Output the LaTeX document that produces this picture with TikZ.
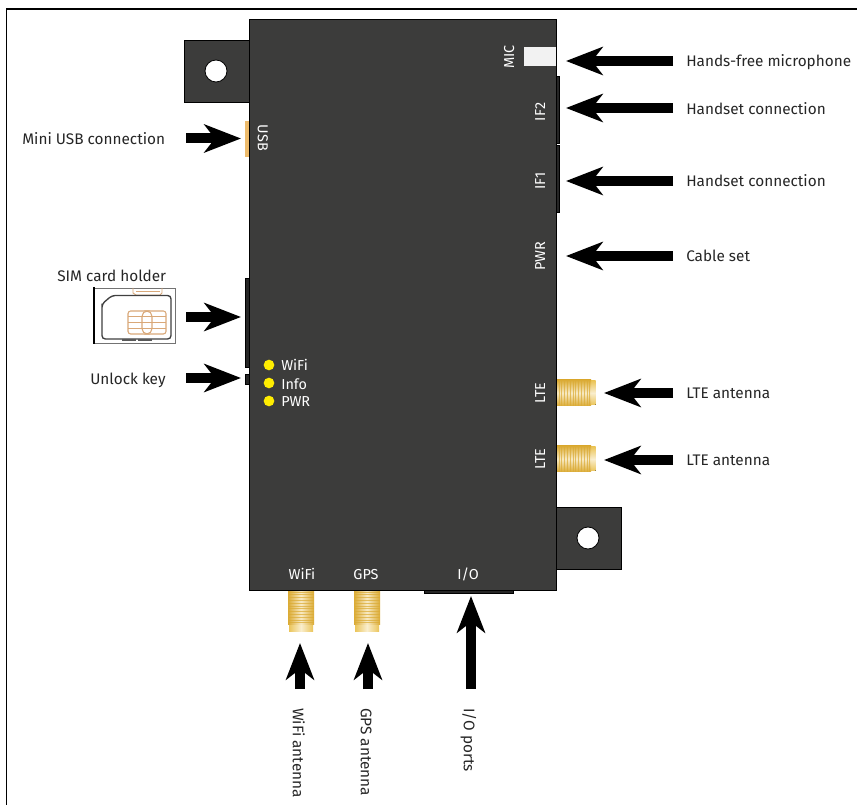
\documentclass[tikz,border=0pt]{standalone}
\usepackage{fontspec}
\setmainfont{Fira Sans}[Scale=1]
\usetikzlibrary{arrows.meta}
\definecolor{body}{HTML}{3C3C3B}
\definecolor{gold}{HTML}{EBC55A}
\definecolor{golddk}{HTML}{DBAB35}
\definecolor{chip}{HTML}{D9A878}
\definecolor{usbc}{HTML}{EDBB6C}
\tikzset{
  x=0.75pt,y=-0.75pt,
  housing/.style={fill=body,draw=black,line width=0.6pt},
  lab/.style={font=\fontsize{11.5pt}{13pt}\selectfont,text=black!85,inner sep=0pt,anchor=west,text height=7.8pt,text depth=0pt},
  vlab/.style={lab,rotate=-90},
  onbox/.style={font=\fontsize{10.8pt}{12pt}\selectfont,text=white,inner sep=0pt,text height=7.6pt,text depth=0pt},
  onboxr/.style={onbox,rotate=90},
  onboxl/.style={onbox,rotate=-90},
  bigarrow/.style={line width=7.5pt,-{Stealth[length=27.5pt,width=21pt,inset=8pt]},black},
  led/.style={circle,fill=yellow!95!orange,inner sep=0pt,minimum size=8pt},
  hole/.style={circle,fill=white,draw=black,line width=0.6pt,inner sep=0pt,minimum size=16.5pt},
  port/.style={fill=black!85,draw=black,line width=0.4pt},
}
\newcommand{\hthread}[2]{% x left, y centre
  \fill[top color=gold,bottom color=gold,middle color=white!70!gold] (#1+33,#2-12) rectangle (#1+38.5,#2+12);
  \shade[top color=golddk,bottom color=golddk,middle color=white!65!gold] (#1,#2-13) rectangle (#1+34,#2+13);
  \foreach \k in {0,...,11}{\draw[golddk,line width=0.7pt,opacity=.7] (#1+2+\k*2.8,#2-13) -- (#1+2+\k*2.8,#2+13);}
}
\newcommand{\vthread}[2]{% x centre, y top
  \fill[left color=gold,right color=gold,middle color=white!70!gold] (#1-12,#2+33) rectangle (#1+12,#2+41);
  \shade[left color=golddk,right color=golddk,middle color=white!65!gold] (#1-13,#2) rectangle (#1+13,#2+34);
  \foreach \k in {0,...,11}{\draw[golddk,line width=0.7pt,opacity=.7] (#1-13,#2+2+\k*2.8) -- (#1+13,#2+2+\k*2.8);}
}
\begin{document}
\begin{tikzpicture}
\useasboundingbox (0,0) rectangle (857,805);
\fill[white] (0,0) rectangle (857,805);
% frame
\draw[black,line width=1pt] (6.5,805) -- (6.5,9) -- (857,9);
% ears
\draw[housing] (184,40) rectangle (249,102);
\draw[housing] (556,507) rectangle (621,569);
\node[hole] (holeA) at (216,71) {};
\node[hole] (holeB) at (588,538) {};
% small ports behind body
\fill[usbc] (244.5,121) rectangle (249,157);
\draw[port] (245,278) rectangle (249,367);
\draw[port] (245.5,374) rectangle (249,384);
\draw[port] (556,76) rectangle (559,143);
\draw[port] (556,145) rectangle (559,212);
\draw[port] (424,589) rectangle (513,593);
% threads
\hthread{557}{393}
\hthread{557}{459}
\vthread{301}{590}
\vthread{367}{590}
% body
\draw[housing] (249,19) rectangle (556,590);
\fill[white!95!black] (523.5,47) rectangle (555.5,66);
% on-body labels
\node[onboxl] (usb) at (263,138) {USB};
\node[onboxr] (mic) at (509,57) {MIC};
\node[onboxr] (ifb) at (540,112) {IF2};
\node[onboxr] (ifa) at (540,181) {IF1};
\node[onboxr] (pwr) at (540,256) {PWR};
\node[onboxr] (lteA) at (540,393) {LTE};
\node[onboxr] (lteB) at (540,459) {LTE};
\node[onbox] (wifi) at (302,574) {WiFi};
\node[onbox] (gps) at (366,574) {GPS};
\node[onbox] (io) at (468,574) {I/O};
% LEDs
\node[led] (l1) at (269,365) {};
\node[led] (l2) at (269,383) {};
\node[led] (l3) at (269,401) {};
\node[onbox,anchor=west] (t1) at (281,365) {WiFi};
\node[onbox,anchor=west] (t2) at (281,384) {Info};
\node[onbox,anchor=west] (t3) at (281,401) {PWR};
% SIM tray
\draw[black!55,line width=0.5pt,fill=white] (94,288) rectangle (175,343);
\draw[chip,line width=0.7pt] (133,288) -- (133,293) -- (136,295) -- (160,295) -- (162,293) -- (162,288);
\draw[chip,line width=0.7pt] (136,291) -- (160,291);
\draw[black,line width=1.6pt] (94,287) -- (94,344);
\draw[black!75,line width=1pt,rounded corners=2.5pt] (102,307) -- (102,304) -- (112,295.5) -- (171,295.5) -- (171,339) -- (102,339) -- cycle;
\draw[black!65,line width=1.1pt] (122,340) -- (136,340) (138,340) -- (152,340);
\draw[chip,line width=0.8pt,rounded corners=2pt] (128,311) rectangle (166,334);
\foreach \yy in {316,322,328}{\draw[chip,line width=0.6pt] (128,\yy) -- (166,\yy);}
\draw[chip,line width=0.8pt,rounded corners=4pt] (142,311) rectangle (152,334);
% labels and arrows
\coordinate (tUSB) at (186,138.5); \coordinate (hUSB) at (241,138.5);
\coordinate (tSIM) at (186,317); \coordinate (hSIM) at (241,317);
\coordinate (tKEY) at (186,378); \coordinate (hKEY) at (241,378);
\coordinate (tMIC) at (673,61); \coordinate (hMIC) at (566,61);
\coordinate (tIF2) at (673,108); \coordinate (hIF2) at (566,108);
\coordinate (tIF1) at (673,181); \coordinate (hIF1) at (566,181);
\coordinate (tPWR) at (673,256); \coordinate (hPWR) at (566,256);
\coordinate (tLA) at (673,393); \coordinate (hLA) at (604,393);
\coordinate (tLB) at (673,460); \coordinate (hLB) at (604,460);
\coordinate (tW) at (300,689); \coordinate (hW) at (300,643);
\coordinate (tG) at (368,689); \coordinate (hG) at (368,643);
\coordinate (tI) at (471,689); \coordinate (hI) at (471,596);
\foreach \a/\b in {tUSB/hUSB,tSIM/hSIM,tKEY/hKEY,tMIC/hMIC,tIF2/hIF2,tIF1/hIF1,tPWR/hPWR,tLA/hLA,tLB/hLB,tW/hW,tG/hG,tI/hI}
  \draw[bigarrow] (\a) -- (\b);
\node[lab] (n1) at (22,139) {Mini USB connection};
\node[lab] (n2) at (57,276) {SIM card holder};
\node[lab] (n3) at (90,379) {Unlock key};
\node[lab] (n4) at (686,61) {Hands-free microphone};
\node[lab] (n5) at (686,109) {Handset connection};
\node[lab] (n6) at (686,181) {Handset connection};
\node[lab] (n7) at (686,256) {Cable set};
\node[lab] (n8) at (686,393) {LTE antenna};
\node[lab] (n9) at (686,460) {LTE antenna};
\node[vlab] (n10) at (298,708) {WiFi antenna};
\node[vlab] (n11) at (366,708) {GPS antenna};
\node[vlab] (n12) at (469,708) {I/O ports};
\end{tikzpicture}
\end{document}
